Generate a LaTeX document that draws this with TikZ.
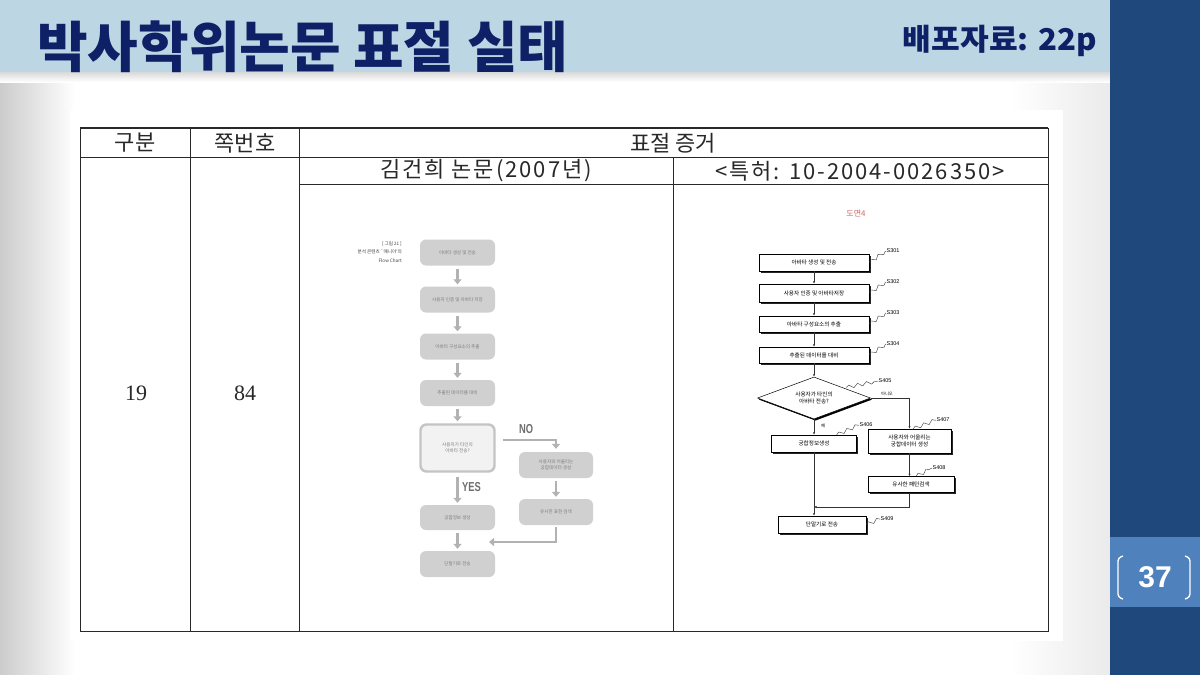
\documentclass[tikz,border=0pt]{standalone}
\usepackage{fontspec}
\setmainfont{Liberation Sans}
\newfontfamily\kr{Noto Sans CJK KR}
\newfontfamily\krwide{Noto Sans CJK KR}[LetterSpace=9]
\newfontfamily\numserif{Liberation Serif}
\usetikzlibrary{shapes.geometric,arrows.meta,shadows,decorations.pathmorphing,calc}
\definecolor{titlebar}{RGB}{188,214,227}
\definecolor{navy}{RGB}{31,73,125}
\definecolor{pagebox}{RGB}{79,129,189}
\definecolor{titletext}{RGB}{14,32,102}
\definecolor{fgray}{RGB}{208,208,208}
\definecolor{dgray}{RGB}{242,242,242}
\definecolor{bgray}{RGB}{196,196,196}
\definecolor{agray}{RGB}{178,178,178}
\definecolor{tgray}{RGB}{125,125,125}
\definecolor{ylabel}{RGB}{110,110,110}
\definecolor{pinkred}{RGB}{205,105,110}
\definecolor{tabline}{RGB}{40,40,40}
\begin{document}
\begin{tikzpicture}[x=1pt,y=-1pt,
  lbox/.style={rectangle, rounded corners=6pt, fill=fgray, minimum width=75pt, minimum height=26pt, inner sep=1pt, align=center, text=tgray, font=\kr\fontsize{4.6}{6}\selectfont},
  ldec/.style={lbox, fill=dgray, draw=bgray, line width=2.4pt, minimum width=74pt, minimum height=47pt},
  larr/.style={draw=agray, line width=2.6pt, -{Triangle[length=5pt,width=8pt]}, shorten >=2pt, shorten <=3pt},
  yesno/.style={text=ylabel, font=\bfseries\fontsize{13}{13}\selectfont, inner sep=0pt},
  pbox/.style={rectangle, draw=black, line width=0.5pt, fill=white, drop shadow={shadow xshift=1.6pt, shadow yshift=-1.6pt, fill=black!85, opacity=1}, inner sep=1pt, align=center, font=\kr\fontsize{5.6}{7}\selectfont},
  parr/.style={draw=black!80, line width=0.5pt, -{Latex[length=2.5pt,width=2.2pt]}},
  plabel/.style={font=\fontsize{5.5}{6}\selectfont, inner sep=0.5pt, anchor=west},
  squig/.style={draw=black!80, line width=0.4pt, decorate, decoration={snake, amplitude=1.8pt, segment length=9pt}},
  tabtext/.style={text=tabline, font=\kr\fontsize{22}{22}\selectfont, inner sep=0pt},
  tabwide/.style={text=tabline, font=\krwide\fontsize{22}{22}\selectfont, inner sep=0pt},
  tabnum/.style={text=tabline, font=\numserif\fontsize{22}{22}\selectfont, inner sep=0pt},
  tabrule/.style={draw=tabline, line width=0.9pt}
]
\useasboundingbox (0,0) rectangle (1200,675);
% background
\fill[white] (0,0) rectangle (1200,675);
\shade[left color=black!20, right color=white] (0,72) rectangle (75,675);
\shade[left color=white, right color=black!8] (1010,72) rectangle (1110,675);
\shade[top color=black!15, bottom color=white] (0,72) rectangle (1110,82);
\fill[titlebar] (0,0) rectangle (1110,72);
\fill[navy] (1110,0) rectangle (1200,675);
\fill[pagebox] (1110,537) rectangle (1200,607);
% title and handout note
\node[anchor=west, text=titletext, font=\kr\bfseries\fontsize{55}{55}\selectfont, inner sep=0pt] (title) at (37,47) {박사학위논문 표절 실태};
\node[anchor=east, text=titletext, font=\kr\bfseries\fontsize{30}{30}\selectfont, inner sep=0pt] (handout) at (1097,41) {\scalebox{1.04}[1]{배포자료: 22p}};
% page number
\node[text=white, font=\bfseries\fontsize{30}{30}\selectfont, inner sep=0pt] (pnum) at (1155,577) {37};
\draw[white, line width=1.3pt, rounded corners=3pt] (1123,556) -- (1118,558) -- (1118,597) -- (1123,599);
\draw[white, line width=1.3pt, rounded corners=3pt] (1185,556) -- (1190,558) -- (1190,597) -- (1185,599);
% table panel
\fill[white] (70,110) rectangle (1063,641);
\draw[tabrule, line width=1.4pt] (80,128) -- (1048,128);
\draw[tabrule] (80,128) -- (80,631) -- (1048,631) -- (1048,128);
\draw[tabrule] (80,157) -- (1048,157);
\draw[tabrule] (299,184) -- (1048,184);
\draw[tabrule] (190,128) -- (190,631);
\draw[tabrule] (299,128) -- (299,631);
\draw[tabrule] (673,157) -- (673,631);
\node[tabtext] (h1) at (135,143) {구분};
\node[tabtext] (h2) at (245,143) {쪽번호};
\node[tabtext] (h3) at (673,143) {표절 증거};
\node[tabwide] (h4) at (486,171) {김건희 논문(2007년)};
\node[tabwide] (h5) at (860,171) {<특허: 10-2004-0026350>};
\node[tabnum] (c1) at (136,393) {19};
\node[tabnum] (c2) at (245,393) {84};
% left flowchart (thesis)
\node[anchor=north east, align=right, inner sep=0pt, font=\kr\fontsize{4.6}{8.5}\selectfont, text=black!75] (cap) at (402,241) {[ 그림 21 ]\\분석 콘텐츠 `매니아'의\\Flow Chart};
\node[lbox] (f1) at (457.5,252.5) {아바타 생성 및 전송};
\node[lbox] (f2) at (457.5,299.5) {사용자 인증 및 아바타 저장};
\node[lbox] (f3) at (457.5,346.5) {아바타 구성요소의 추출};
\node[lbox] (f4) at (457.5,393) {추출된 데이터를 대비};
\node[ldec] (fd) at (457.5,448) {사용자가 타인의\\아바타 전송?};
\node[lbox, minimum height=25pt] (f5) at (457.5,517.5) {궁합정보 생성};
\node[lbox] (f6) at (457.5,564) {단말기로 전송};
\node[lbox, minimum width=74pt] (f7) at (556,465) {사용자와 어울리는\\궁합데이터 생성};
\node[lbox, minimum width=74pt] (f8) at (556,512) {유사한 표현 검색};
\draw[larr] (f1) -- (f2);
\draw[larr] (f2) -- (f3);
\draw[larr] (f3) -- (f4);
\draw[larr] (f4) -- (fd);
\draw[larr, shorten <=4pt] (fd) -- (f5);
\draw[larr] (f5) -- (f6);
\draw[larr, shorten >=3pt] ([xshift=4pt,yshift=8pt]fd.east) -| (f7.north);
\draw[larr] (f7) -- (f8);
\coordinate (ret) at (489,542);
\draw[larr, shorten <=2pt, shorten >=0pt] (f8.south) |- (ret);
\node[yesno, anchor=west] (yes) at (462,487) {\scalebox{0.72}[1]{YES}};
\node[yesno, anchor=west] (no) at (519,429) {\scalebox{0.72}[1]{NO}};
% right flowchart (patent)
\node[text=pinkred, font=\kr\fontsize{8}{8}\selectfont, inner sep=0pt] (fig) at (856,213) {도면4};
\node[pbox, minimum width=110pt, minimum height=17pt] (p1) at (814,262.5) {아바타 생성 및 전송};
\node[pbox, minimum width=110pt, minimum height=18pt] (p2) at (814,293) {사용자 인증 및 아바타저장};
\node[pbox, minimum width=110pt, minimum height=16pt] (p3) at (814,324) {아바타 구성요소의 추출};
\node[pbox, minimum width=110pt, minimum height=16pt] (p4) at (814,355) {추출된 데이터를 대비};
\node[pbox, diamond, aspect=2.7, inner sep=0pt, minimum width=113pt, minimum height=42pt, drop shadow={shadow xshift=1.2pt, shadow yshift=-1.4pt, fill=black, opacity=1}] (pd) at (814,398) {사용자가 타인의\\아바타 전송?};
\node[pbox, minimum width=85pt, minimum height=17pt] (p6) at (814,443.5) {궁합정보생성};
\node[pbox, minimum width=83pt, minimum height=24pt] (p7) at (909.5,441) {사용자와 어울리는\\궁합데이터 생성};
\node[pbox, minimum width=86pt, minimum height=16pt] (p8) at (911,484.5) {유사한 패턴검색};
\node[pbox, minimum width=88pt, minimum height=17pt] (p9) at (822,524.5) {단말기로 전송};
\draw[parr] (p1) -- (p2);
\draw[parr] (p2) -- (p3);
\draw[parr] (p3) -- (p4);
\draw[parr] (p4) -- (pd);
\draw[parr] (pd.east) -| (p7.north);
\draw[parr] (pd.south) -- (p6.north);
\draw[parr] (p7.south) -- (p7.south |- p8.north);
\coordinate (join) at (814,507);
\draw[parr] (p7.south |- p8.south) |- (join);
\draw[parr] (p6.south) -- (p6.south |- p9.north);
\node[font=\kr\fontsize{4.3}{5}\selectfont, inner sep=0pt] (nolab) at (887,394) {아니오};
\node[font=\kr\fontsize{4.3}{5}\selectfont, inner sep=0pt] (yeslab) at (823,426) {예};
\node[plabel] (l1) at (886,251) {S301};
\node[plabel] (l2) at (886,282) {S302};
\node[plabel] (l3) at (886,313) {S303};
\node[plabel] (l4) at (886,344) {S304};
\node[plabel] (l5) at (878,381) {S405};
\node[plabel] (l6) at (859,425) {S406};
\node[plabel] (l7) at (936,420) {S407};
\node[plabel] (l8) at (932,468) {S408};
\node[plabel] (l9) at (880,519) {S409};
\draw[squig] (p1.east) -- (l1.west);
\draw[squig] (p2.east) -- (l2.west);
\draw[squig] (p3.east) -- (l3.west);
\draw[squig] (p4.east) -- (l4.west);
\draw[squig] ([xshift=4pt]pd.north east) -- (l5.west);
\draw[squig] ([xshift=-20pt]p6.north east) -- (l6.west);
\draw[squig] ([xshift=-38pt]p7.north east) -- (l7.west);
\draw[squig] ([xshift=-38pt]p8.north east) -- (l8.west);
\draw[squig] (p9.east) -- (l9.west);
\end{tikzpicture}
\end{document}
